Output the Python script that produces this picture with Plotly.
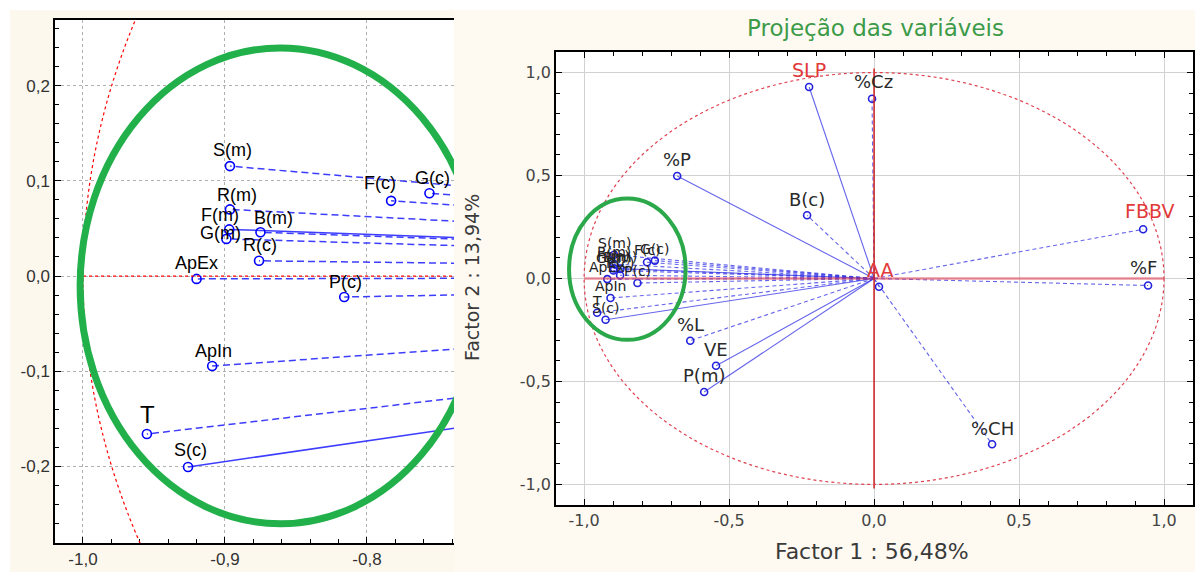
import plotly.graph_objects as go

# ---------------- data ----------------
variables = ["SLP", "%Cz", "%P", "B(c)", "FBBV", "%F", "AA", "%CH", "%L", "VE", "P(m)",
             "S(m)", "F(c)", "G(c)", "R(m)", "F(m)", "B(m)", "G(m)", "R(c)", "ApEx",
             "P(c)", "ApIn", "T", "S(c)"]
factor1 = [-0.224, -0.007, -0.679, -0.231, 0.928, 0.945, 0.017, 0.407, -0.634, -0.545, -0.586,
           -0.8965, -0.783, -0.756, -0.8965, -0.897, -0.875, -0.899, -0.876, -0.920,
           -0.816, -0.909, -0.955, -0.926]
factor2 = [0.930, 0.873, 0.498, 0.307, 0.239, -0.034, -0.040, -0.805, -0.302, -0.424, -0.551,
           0.1155, 0.079, 0.087, 0.070, 0.049, 0.046, 0.039, 0.016, -0.003,
           -0.022, -0.0945, -0.166, -0.2006]

left_xticks = [-1.0, -0.9, -0.8]
left_xticktext = ["-1,0", "-0,9", "-0,8"]
left_yticks = [-0.2, -0.1, 0.0, 0.1, 0.2]
left_yticktext = ["-0,2", "-0,1", "0,0", "0,1", "0,2"]
right_ticks = [-1.0, -0.5, 0.0, 0.5, 1.0]
right_ticktext = ["-1,0", "-0,5", "0,0", "0,5", "1,0"]

title_text = "Projeção das variáveis"
xtitle = "Factor 1 : 56,48%"
ytitle = "Factor 2 : 13,94%"

# ---------------- styles ----------------
solid_vars = {"SLP", "%P", "VE", "P(m)", "F(m)", "S(c)"}
red_vars = {"SLP", "FBBV", "AA"}
cluster_vars = {"S(m)", "F(c)", "G(c)", "R(m)", "F(m)", "B(m)", "G(m)", "R(c)", "ApEx",
                "P(c)", "ApIn", "T", "S(c)"}
left_nudge = {"S(m)": (3, 16), "F(c)": (-11, 18), "G(c)": (3, 15), "R(m)": (7, 14),
              "F(m)": (-9, 14), "B(m)": (13, 14), "G(m)": (-6, 6), "R(c)": (1, 16),
              "ApEx": (0, 16), "P(c)": (1, 15), "ApIn": (1, 15), "T": (1, 20), "S(c)": (2, 17)}
right_nudge = {"SLP": (0, 17), "%Cz": (1, 17), "AA": (2, 17), "FBBV": (6, 18), "%F": (-5, 18)}

W, H = 1195, 572
def px(x):
    return x / W
def py(y):
    return 1 - y / H

L_X = [-1.0197, -0.7387]
L_Y = [-0.2805, 0.269]
R_X = [-1.097, 1.1]
R_Y = [-1.10, 1.10]
L_DOM_X = [px(55), px(454)]
L_DOM_Y = [py(543), py(20)]
R_DOM_X = [px(556), px(1193)]
R_DOM_Y = [py(505), py(52)]

fig = go.Figure()

# vector lines
for name, fx, fy in zip(variables, factor1, factor2):
    dash_l = "solid" if name in solid_vars else "7px,4px"
    dash_r = "solid" if name in solid_vars else "4px,3px"
    fig.add_trace(go.Scatter(x=[0, fx], y=[0, fy], mode="lines", xaxis="x", yaxis="y",
                             line=dict(color="rgba(40,40,255,0.9)", width=1.5, dash=dash_l),
                             hoverinfo="skip", showlegend=False))
    fig.add_trace(go.Scatter(x=[0, fx], y=[0, fy], mode="lines", xaxis="x2", yaxis="y2",
                             line=dict(color="rgba(50,50,230,0.75)", width=1.1, dash=dash_r),
                             hoverinfo="skip", showlegend=False))

# markers
fig.add_trace(go.Scatter(x=factor1, y=factor2, mode="markers", xaxis="x", yaxis="y",
                         marker=dict(symbol="circle-open", size=9, color="#0000ff",
                                     line=dict(width=1.6, color="#0000ff")),
                         text=variables, showlegend=False))
fig.add_trace(go.Scatter(x=factor1, y=factor2, mode="markers", xaxis="x2", yaxis="y2",
                         marker=dict(symbol="circle-open", size=7, color="#2222dd",
                                     line=dict(width=1.6, color="#2222dd")),
                         text=variables, showlegend=False))

annotations = []
for name, fx, fy in zip(variables, factor1, factor2):
    # left panel (zoom)
    if L_X[0] <= fx <= L_X[1] and L_Y[0] <= fy <= L_Y[1]:
        xs, ys = left_nudge.get(name, (0, 16))
        annotations.append(dict(x=fx, y=fy, xref="x", yref="y", text=name, showarrow=False,
                                xshift=xs, yshift=ys, xanchor="center", yanchor="middle",
                                font=dict(family="Liberation Sans, Arial", size=24 if name == "T" else 18,
                                          color="#000")))
    # right panel
    if name in cluster_vars:
        font = dict(family="DejaVu Sans", size=14, color="#222")
        xs, ys = (0, 12)
    elif name in red_vars:
        font = dict(family="DejaVu Sans", size=19, color="#e23a3a")
        xs, ys = right_nudge.get(name, (0, 16))
    else:
        font = dict(family="DejaVu Sans", size=18, color="#2a2a2a")
        xs, ys = right_nudge.get(name, (0, 16))
    annotations.append(dict(x=fx, y=fy, xref="x2", yref="y2", text=name, showarrow=False,
                            xshift=xs, yshift=ys, xanchor="center", yanchor="middle", font=font))

annotations += [
    dict(x=px(875), y=py(28), xref="paper", yref="paper", text=title_text, showarrow=False,
         xanchor="center", yanchor="middle",
         font=dict(family="DejaVu Sans", size=23, color="#3c9a48")),
    dict(x=px(872), y=py(551), xref="paper", yref="paper", text=xtitle, showarrow=False,
         xanchor="center", yanchor="middle",
         font=dict(family="DejaVu Sans", size=22, color="#3a3a3a")),
    dict(x=px(472), y=py(278), xref="paper", yref="paper", text=ytitle, showarrow=False,
         xanchor="center", yanchor="middle",
         textangle=-90, font=dict(family="DejaVu Sans", size=19, color="#3a3a3a")),
]

shapes = [
    # backgrounds
    dict(type="rect", xref="paper", yref="paper", x0=px(10), x1=px(454), y0=0, y1=py(10),
         fillcolor="#fdf8ee", line=dict(width=0), layer="below"),
    dict(type="rect", xref="paper", yref="paper", x0=px(454), x1=1, y0=0, y1=py(10),
         fillcolor="#fefaf2", line=dict(width=0), layer="below"),
    dict(type="rect", xref="paper", yref="paper", x0=L_DOM_X[0], x1=L_DOM_X[1],
         y0=L_DOM_Y[0], y1=L_DOM_Y[1], fillcolor="white", line=dict(width=0), layer="below"),
    dict(type="rect", xref="paper", yref="paper", x0=R_DOM_X[0], x1=R_DOM_X[1],
         y0=R_DOM_Y[0], y1=R_DOM_Y[1], fillcolor="white", line=dict(width=0), layer="below"),
    # left panel reference lines
    dict(type="line", xref="x", yref="y", x0=-1, x1=0, y0=0, y1=0,
         line=dict(color="red", width=1.2, dash="dot")),
    dict(type="circle", xref="x", yref="y", x0=-1, x1=1, y0=-1, y1=1,
         line=dict(color="red", width=1.2, dash="dot")),
    dict(type="circle", xref="x", yref="y", x0=-1.002, x1=-0.720, y0=-0.2603, y1=0.2397,
         line=dict(color="#22b04b", width=7)),
    # right panel reference lines
    dict(type="line", xref="x2", yref="y2", x0=-1, x1=1, y0=0, y1=0,
         line=dict(color="rgba(230,60,80,0.55)", width=2.5)),
    dict(type="line", xref="x2", yref="y2", x0=0, x1=0, y0=-1.02, y1=1.02,
         line=dict(color="#cc2020", width=1.5)),
    dict(type="circle", xref="x2", yref="y2", x0=-1, x1=1, y0=-1, y1=1,
         line=dict(color="#e04050", width=1.2, dash="dot")),
    dict(type="circle", xref="x2", yref="y2", x0=-1.052, x1=-0.650, y0=-0.298, y1=0.388,
         line=dict(color="#2aa84a", width=4)),
]

axis_common = dict(showline=True, linecolor="black", linewidth=1.5, zeroline=False,
                   ticks="inside", ticklen=6, tickcolor="black", tickwidth=1, automargin=False)

fig.update_layout(
    width=W, height=H, margin=dict(l=0, r=0, t=0, b=0, autoexpand=False),
    paper_bgcolor="white", plot_bgcolor="rgba(0,0,0,0)",
    showlegend=False, annotations=annotations, shapes=shapes,
    xaxis=dict(domain=L_DOM_X, range=L_X, tickvals=left_xticks, ticktext=left_xticktext,
               mirror=True, showgrid=True, gridcolor="#b0b0b0", griddash="dot", gridwidth=1,
               minor=dict(dtick=0.02, tick0=0, ticks="inside", ticklen=4, tickcolor="black", showgrid=False),
               tickfont=dict(family="Liberation Sans, Arial", size=17, color="#333"),
               anchor="y", **axis_common),
    yaxis=dict(domain=L_DOM_Y, range=L_Y, tickvals=left_yticks, ticktext=left_yticktext,
               mirror=False, showgrid=True, gridcolor="#b0b0b0", griddash="dot", gridwidth=1,
               minor=dict(dtick=0.02, tick0=0, ticks="inside", ticklen=4, tickcolor="black", showgrid=False),
               tickfont=dict(family="Liberation Sans, Arial", size=17, color="#333"),
               anchor="x", **axis_common),
    xaxis2=dict(domain=R_DOM_X, range=R_X, tickvals=right_ticks, ticktext=right_ticktext,
                mirror="ticks", showgrid=True, gridcolor="#d2d2d2", gridwidth=1,
                minor=dict(dtick=0.1, tick0=0, ticks="inside", ticklen=4, tickcolor="black", showgrid=False),
                tickfont=dict(family="DejaVu Sans", size=16, color="#444"),
                anchor="y2", **axis_common),
    yaxis2=dict(domain=R_DOM_Y, range=R_Y, tickvals=right_ticks, ticktext=right_ticktext,
                mirror="ticks", showgrid=True, gridcolor="#d2d2d2", gridwidth=1,
                minor=dict(dtick=0.1, tick0=0, ticks="inside", ticklen=4, tickcolor="black", showgrid=False),
                tickfont=dict(family="DejaVu Sans", size=16, color="#444"),
                anchor="x2", **axis_common),
)

fig.write_html("out.html", config={"displayModeBar": False},
               post_script="document.body.style.margin='0';document.body.style.overflow='hidden';")
